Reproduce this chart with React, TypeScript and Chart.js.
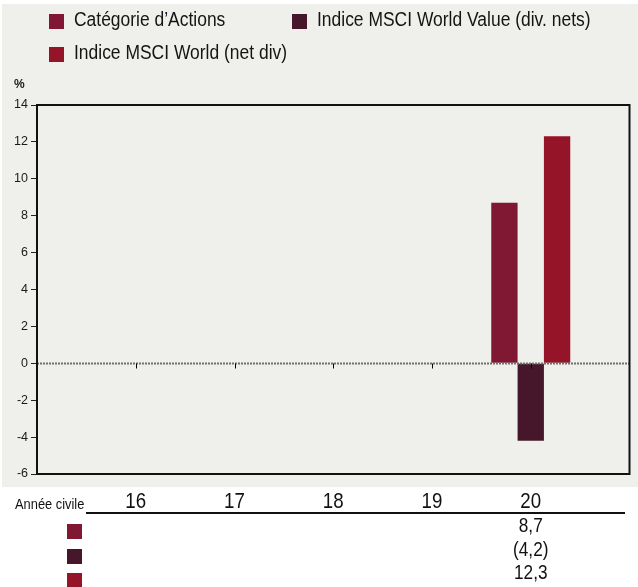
import React, { useEffect, useRef } from 'react';
import { Chart, registerables } from 'chart.js';

Chart.register(...registerables);

// ---- Data ----
const years = ['16', '17', '18', '19', '20'];
const categorieActions: (number | null)[] = [null, null, null, null, 8.7];
const msciWorldValue: (number | null)[] = [null, null, null, null, -4.2];
const msciWorld: (number | null)[] = [null, null, null, null, 12.3];
const seriesNames = ['Catégorie d’Actions', 'Indice MSCI World Value (div. nets)', 'Indice MSCI World (net div)'];
const yMin = -6;
const yMax = 14;
const yStep = 2;
const unitLabel = '%';
const tableHeader = 'Année civile';

// ---- Styles ----
const seriesColors = ['#801833', '#46172a', '#961428'];
const BG = '#efefeb';
const SANS = '"Liberation Sans", Arial, sans-serif';

const fmt = (v: number | null) => {
  if (v === null || v === undefined) return '';
  const s = Math.abs(v).toFixed(1).replace('.', ',');
  return v < 0 ? `(${s})` : s;
};

// draw horizontally condensed real text
const txt = (ctx: CanvasRenderingContext2D, s: string, x: number, y: number, size: number, sx: number, align: CanvasTextAlign = 'left') => {
  ctx.save();
  ctx.translate(x, y);
  ctx.scale(sx, 1);
  ctx.font = `${size}px ${SANS}`;
  ctx.textAlign = align;
  ctx.textBaseline = 'alphabetic';
  ctx.fillText(s, 0, 0);
  ctx.restore();
};

export default function App() {
  const ref = useRef<HTMLCanvasElement | null>(null);

  useEffect(() => {
    document.body.style.margin = '0';
    const canvas = ref.current;
    if (!canvas) return;
    const labels = ['', ...years, ''];
    const pad = (arr: (number | null)[]) => [null, ...arr, null];
    const allSeries = [categorieActions, msciWorldValue, msciWorld];

    const decor = {
      id: 'decor',
      beforeDraw(chart: any) {
        const ctx = chart.ctx;
        ctx.save();
        ctx.fillStyle = '#ffffff';
        ctx.fillRect(0, 0, chart.width, chart.height);
        ctx.fillStyle = BG;
        ctx.fillRect(2, 4, chart.width - 2, 483);
        // legend
        const items = [
          { x: 49, y: 14, tx: 74 },
          { x: 292, y: 14, tx: 317 },
          { x: 49, y: 47, tx: 74 },
        ];
        items.forEach((it, i) => {
          ctx.fillStyle = seriesColors[i];
          ctx.fillRect(it.x, it.y, 15, 15);
          ctx.fillStyle = '#141414';
          txt(ctx, seriesNames[i], it.tx, it.y + 12, 19.5, 0.895);
        });
        // unit
        ctx.font = `bold 12px ${SANS}`;
        ctx.fillStyle = '#1a1a1a';
        ctx.textBaseline = 'alphabetic';
        ctx.fillText(unitLabel, 14, 88);
        ctx.restore();
      },
      afterDatasetsDraw(chart: any) {
        const ctx = chart.ctx;
        const { left, right, top, bottom } = chart.chartArea;
        const y = chart.scales.y;
        const x = chart.scales.x;
        const y0 = Math.round(y.getPixelForValue(0)) + 0.5;
        ctx.save();
        // zero line
        ctx.strokeStyle = '#707070';
        ctx.lineWidth = 2;
        ctx.setLineDash([2, 1]);
        ctx.beginPath();
        ctx.moveTo(left, y0);
        ctx.lineTo(right, y0);
        ctx.stroke();
        ctx.setLineDash([]);
        // category ticks
        ctx.strokeStyle = '#000';
        ctx.lineWidth = 1;
        for (let i = 1; i <= years.length; i++) {
          const px = Math.round(x.getPixelForValue(i)) + 0.5;
          ctx.beginPath();
          ctx.moveTo(px, y0);
          ctx.lineTo(px, y0 + 5);
          ctx.stroke();
        }
        // frame
        ctx.strokeStyle = '#111';
        ctx.lineWidth = 2;
        ctx.strokeRect(left, top, right - left, bottom - top);
        ctx.restore();
      },
      afterDraw(chart: any) {
        const ctx = chart.ctx;
        const x = chart.scales.x;
        ctx.save();
        ctx.fillStyle = '#111';
        txt(ctx, tableHeader, 15, 508.5, 15.5, 0.83);
        // underline
        ctx.fillRect(86, 512, 539, 2);
        // year labels
        years.forEach((yr, i) => {
          txt(ctx, yr, x.getPixelForValue(i + 1), 507.5, 22, 0.85, 'center');
        });
        // rows
        const rowY = [531, 556, 580];
        const baseY = [532, 556, 579];
        allSeries.forEach((arr, si) => {
          ctx.fillStyle = seriesColors[si];
          ctx.fillRect(67, rowY[si] - 7, 15, 15);
          ctx.fillStyle = '#111';
          arr.forEach((v, i) => {
            const t = fmt(v);
            if (t) txt(ctx, t, x.getPixelForValue(i + 1), baseY[si], 20, 0.86, 'center');
          });
        });
        ctx.restore();
      },
    };

    const chart = new Chart(canvas, {
      type: 'bar',
      data: {
        labels,
        datasets: allSeries.map((arr, i) => ({
          label: seriesNames[i],
          data: pad(arr),
          backgroundColor: seriesColors[i],
          borderWidth: 0,
          categoryPercentage: 0.8,
          barPercentage: 1,
        })),
      },
      options: {
        responsive: false,
        animation: false,
        devicePixelRatio: 1,
        layout: { padding: { left: 0, top: 105, right: 8.5, bottom: 113 } },
        plugins: { legend: { display: false }, tooltip: { enabled: false } },
        scales: {
          x: {
            type: 'category',
            offset: false,
            display: false,
          },
          y: {
            min: yMin,
            max: yMax,
            afterFit: (s: any) => { s.width = 37; },
            ticks: {
              stepSize: yStep,
              padding: 3,
              color: '#1a1a1a',
              font: { family: SANS, size: 12.5 },
            },
            grid: {
              drawOnChartArea: false,
              drawTicks: true,
              tickLength: 6,
              color: '#222',
            },
            border: { display: false },
          },
        },
      },
      plugins: [decor],
    });
    return () => chart.destroy();
  }, []);

  return (
    <div style={{ width: 638, height: 587, position: 'relative' }}>
      <canvas ref={ref} width={638} height={587} />
    </div>
  );
}
